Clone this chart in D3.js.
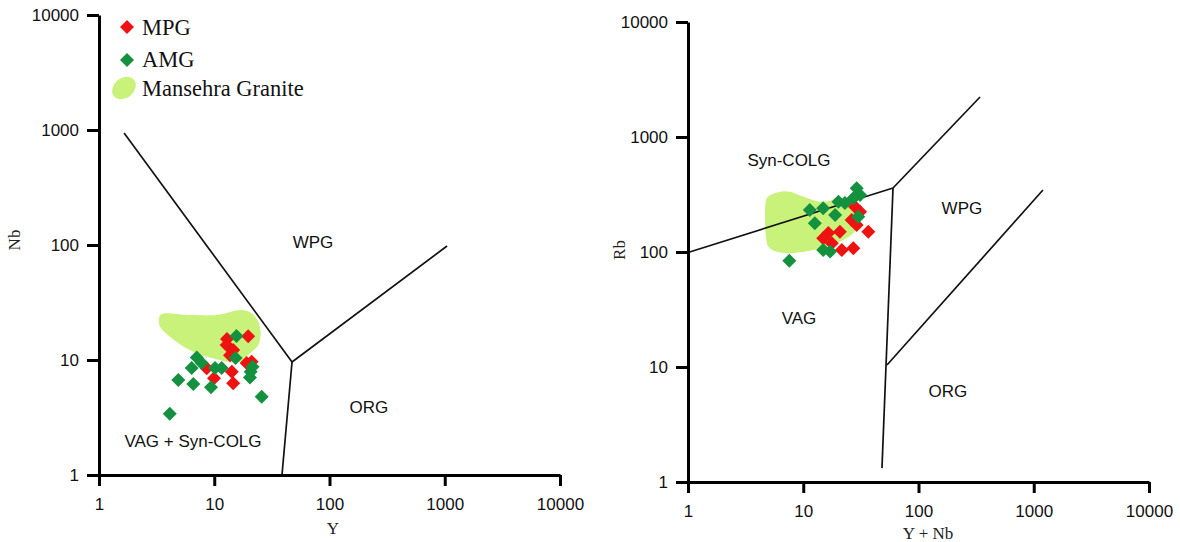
<!DOCTYPE html>
<html><head><meta charset="utf-8">
<script src="https://cdn.jsdelivr.net/npm/d3@7"></script>
<style>body{margin:0;background:#fff}svg{display:block}</style>
</head><body><svg id="c" width="1180" height="542"></svg>
<script>
// ---------- DATA ----------
const tickValues = [1, 10, 100, 1000, 10000];

// Left diagram: Nb vs Y
const leftMPG = [[12.9,15.2],[19.7,16.1],[12.8,13.5],[14.6,12.2],[13.7,11.0],[19.1,9.42],[21.1,9.67],[8.6,8.47],[14.2,7.91],[9.95,6.93],[14.6,6.27]];
const leftAMG = [[15.6,16.2],[7.05,10.5],[7.78,9.42],[6.37,8.52],[10.15,8.52],[11.6,8.52],[15.3,10.4],[21.5,8.74],[20.7,7.91],[20.4,7.05],[4.88,6.70],[6.58,6.18],[9.37,5.79],[25.8,4.80],[4.11,3.41]];
const leftField = [[3.34,23.8],[3.74,25.5],[6.17,24.6],[10.5,24.6],[16.7,27.2],[21.1,25.5],[24.1,21.5],[25.3,17.1],[24.1,13.5],[20.4,11.4],[16.7,9.67],[12.8,9.67],[8.6,10.7],[7.05,11.4],[5.39,13.1],[4.13,15.9],[3.38,19.5]];
const leftBoundaries = [
  [[1.65,942],[47.3,9.6]],
  [[47.3,9.6],[1047,98]],
  [[47.3,9.6],[38.7,1]]
];
const leftLabels = [["WPG",71.9,106],["ORG",220,3.9],["VAG + Syn-COLG",6.54,1.98]];

// Right diagram: Rb vs Y+Nb
const rightMPG = [[28.1,248],[31.1,224],[26.3,190],[29.1,172],[36.7,150],[20.8,150],[16.5,146],[14.9,132],[17.7,119],[21.6,104],[27.2,108]];
const rightAMG = [[29.1,358],[31.1,313],[27.2,293],[20.2,274],[23.0,267],[14.9,240],[11.4,232],[18.9,210],[12.6,178],[30.0,203],[14.9,104],[17.1,101],[7.57,84]];
const rightField = [[4.82,293],[6.28,334],[7.67,334],[10.0,303],[14.0,274],[19.5,283],[23.8,283],[29.1,248],[31.1,190],[27.2,146],[20.8,123],[12.2,104],[7.18,97.5],[4.98,111],[4.66,190]];
const rightBoundaries = [
  [[1,99],[60.1,360]],
  [[60.1,360],[342,2228]],
  [[60.1,360],[48.2,1.32]],
  [[53.3,10.4],[1202,346]]
];
const rightLabels = [["Syn-COLG",7.52,631],["WPG",238,241],["VAG",9.19,26.7],["ORG",180,6.19]];

const legendItems = ["MPG","AMG","Mansehra Granite"];
// ---------- STYLE ----------
const RED = "#ee1212", GREEN = "#13913f", FIELD = "#c9f27b";
const sansFont = "Liberation Sans, Arial, sans-serif";
const serifFont = "Liberation Serif, Times New Roman, serif";

const svg = d3.select("#c");
const diamond = r => `M0,${-r}L${r},0L0,${r}L${-r},0Z`;

function panel(cfg) {
  const x = d3.scaleLog().domain([1,10000]).range(cfg.xr);
  const y = d3.scaleLog().domain([1,10000]).range(cfg.yr);
  const g = svg.append("g");

  const line = d3.line().x(d => x(d[0])).y(d => y(d[1])).curve(d3.curveCardinalClosed.tension(0.2));
  g.append("path").attr("d", line(cfg.field)).attr("fill", FIELD).attr("stroke", "none");

  cfg.bounds.forEach(b => {
    g.append("line").attr("x1", x(b[0][0])).attr("y1", y(b[0][1]))
      .attr("x2", x(b[1][0])).attr("y2", y(b[1][1]))
      .attr("stroke", "#111").attr("stroke-width", 1.7);
  });

  cfg.labels.forEach(l => {
    g.append("text").attr("x", x(l[1])).attr("y", y(l[2])).attr("dy", "0.35em")
      .attr("text-anchor", "middle").attr("font-family", sansFont).attr("font-size", 17)
      .attr("fill", "#111").text(l[0]);
  });

  const drawPts = (data, col) => g.append("g").selectAll("path").data(data).join("path")
    .attr("transform", d => `translate(${x(d[0])},${y(d[1])})`)
    .attr("d", diamond(7)).attr("fill", col);
  drawPts(cfg.mpg, RED);
  drawPts(cfg.amg, GREEN);

  const xa = g.append("g").attr("transform", `translate(0,${cfg.yr[0]})`)
    .call(d3.axisBottom(x).tickValues(tickValues).tickFormat(d3.format("d")).tickSize(11).tickSizeOuter(0).tickPadding(12));
  const ya = g.append("g").attr("transform", `translate(${cfg.xr[0]},0)`)
    .call(d3.axisLeft(y).tickValues(tickValues).tickFormat(d3.format("d")).tickSize(12).tickSizeOuter(0).tickPadding(8));
  [xa, ya].forEach(a => {
    a.selectAll("path.domain").attr("stroke", "#000").attr("stroke-width", 3);
    a.selectAll(".tick line").attr("stroke", "#000").attr("stroke-width", 3);
    a.selectAll(".tick text").attr("font-family", sansFont).attr("font-size", 17).attr("fill", "#111");
  });

  g.append("text").attr("x", cfg.xtX).attr("y", cfg.xtY)
    .attr("text-anchor", "middle").attr("font-family", serifFont).attr("font-size", 17)
    .attr("fill", "#222").text(cfg.xt);
  g.append("text").attr("transform", `translate(${cfg.ytX},${cfg.ytYc}) rotate(-90)`)
    .attr("text-anchor", "middle").attr("font-family", serifFont).attr("font-size", 17)
    .attr("fill", "#222").text(cfg.yt);
}

panel({xr:[99,560], yr:[475,15], field:leftField, bounds:leftBoundaries, labels:leftLabels,
  mpg:leftMPG, amg:leftAMG, xt:"Y", xtX:333, xtY:534, yt:"Nb", ytX:20, ytYc:240});
panel({xr:[688,1149], yr:[482,22], field:rightField, bounds:rightBoundaries, labels:rightLabels,
  mpg:rightMPG, amg:rightAMG, xt:"Y + Nb", xtX:928, xtY:539, yt:"Rb", ytX:625, ytYc:250});

const lg = svg.append("g");
lg.append("path").attr("transform","translate(127,27)").attr("d", diamond(7)).attr("fill", RED);
lg.append("path").attr("transform","translate(127,60)").attr("d", diamond(7)).attr("fill", GREEN);
lg.append("ellipse").attr("cx",124).attr("cy",88).attr("rx",13).attr("ry",10)
  .attr("transform","rotate(-40,124,88)").attr("fill", FIELD);
legendItems.forEach((t,i) => {
  lg.append("text").attr("x",142).attr("y",[35,67,96][i]).attr("font-family", serifFont)
    .attr("font-size", 22.5).attr("fill","#111").text(t);
});
</script></body></html>
